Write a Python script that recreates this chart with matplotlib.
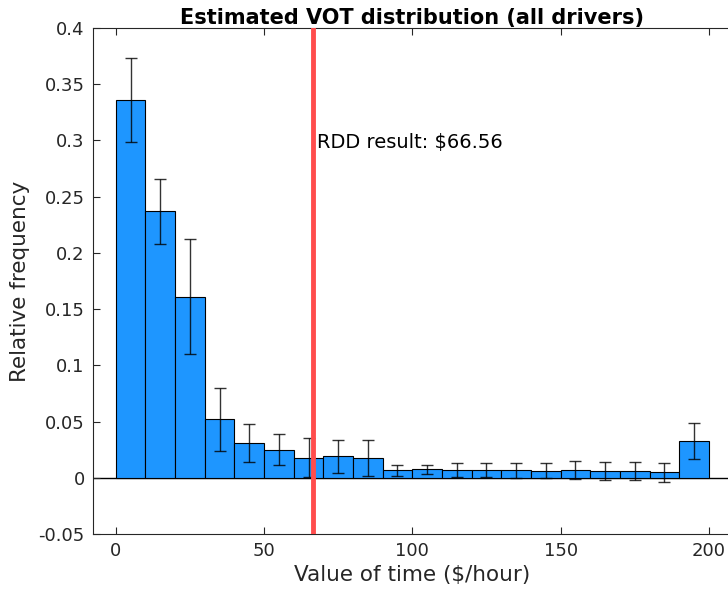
import numpy as np
import matplotlib
matplotlib.use("Agg")
import matplotlib.pyplot as plt

# bin edges of the histogram ($/hour), 10 wide
bin_left = [0, 10, 20, 30, 40, 50, 60, 70, 80, 90,
            100, 110, 120, 130, 140, 150, 160, 170, 180, 190]
# relative frequency per bin
freq = [0.336, 0.237, 0.161, 0.052, 0.031, 0.025, 0.018, 0.019, 0.0175, 0.0065,
        0.0077, 0.0071, 0.0071, 0.0065, 0.0062, 0.0065, 0.0059, 0.0059, 0.0047, 0.0326]
# error bar half widths
err = [0.037, 0.029, 0.051, 0.028, 0.017, 0.014, 0.017, 0.0145, 0.016, 0.005,
       0.004, 0.006, 0.006, 0.0065, 0.0065, 0.008, 0.008, 0.008, 0.0085, 0.0158]

rdd_value = 66.56
rdd_label = "RDD result: $66.56"

plt.rcParams['font.family'] = ['DejaVu Sans']
txt_col = '#262626'

fig = plt.figure(figsize=(7.28, 5.94), dpi=100)
ax = fig.add_axes([0.1277, 0.1010, 0.8765, 0.8519])  # runs slightly past the right edge

centers = np.array(bin_left) + 5
ax.bar(centers, freq, width=10, color='#1E96FF', edgecolor='black', linewidth=0.8, zorder=2)
ax.errorbar(centers, freq, yerr=err, fmt='none', ecolor='black', elinewidth=1.0,
            capsize=4.5, capthick=1.0, alpha=0.8, zorder=3)

# baseline at zero like a matlab bar plot
ax.axhline(0, color='black', linewidth=1.0, zorder=1)

# rdd estimate
ax.axvline(rdd_value, color='#FF4D4D', linewidth=3.5, zorder=4)
ax.text(rdd_value + 1.3, 0.2985, rdd_label, fontsize=14, va='center', ha='left', color='black')

ax.set_xlim(-7.7, 207.5)
ax.set_ylim(-0.05, 0.4)
ax.set_xticks([0, 50, 100, 150, 200])
ax.set_yticks(np.arange(-0.05, 0.4001, 0.05))
ax.set_yticklabels(['-0.05', '0', '0.05', '0.1', '0.15', '0.2', '0.25', '0.3', '0.35', '0.4'])

ax.tick_params(direction='in', length=5, width=0.8, top=True, right=False,
               labelsize=13, colors=txt_col, pad=6)
for s in ['left', 'bottom', 'top']:
    ax.spines[s].set_color(txt_col)
    ax.spines[s].set_linewidth(0.8)
ax.spines['right'].set_visible(False)

ax.set_xlabel('Value of time ($/hour)', fontsize=15.5, color=txt_col, labelpad=3)
ax.set_ylabel('Relative frequency', fontsize=15.5, color=txt_col, labelpad=6)
ax.set_title('Estimated VOT distribution (all drivers)', fontsize=15, fontweight='bold', pad=3)

fig.savefig('out.png', dpi=100)
